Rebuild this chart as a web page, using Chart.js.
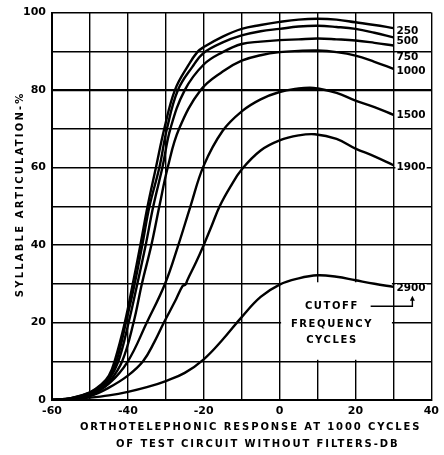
<!DOCTYPE html>
<html>
<head>
<meta charset="utf-8">
<script src="https://cdn.jsdelivr.net/npm/chart.js@4.4.0/dist/chart.umd.min.js"></script>
<style>
  html, body { margin: 0; padding: 0; background: #fff; }
</style>
</head>
<body>
<canvas id="c" width="444" height="455"></canvas>
<script>
// Low-pass filter cutoff frequencies (cycles) labelling each curve
const cutoffs = ['250', '500', '750', '1000', '1500', '1900', '2900'];

// Orthotelephonic response (dB) and syllable articulation (%) for each cutoff
const db250  = [-60, -55, -50, -47, -45, -43.5, -40.8, -38.7, -36.7, -34.8, -32.6, -30.4, -27.6, -24, -21.7, -20, -15, -10, -5, 0, 5, 10, 15, 20, 25, 30];
const art250 = [0, 0.5, 2.0, 4.0, 6.3, 10, 20, 30, 40, 50, 60, 70, 80, 86.5, 89.8, 91.1, 93.8, 95.8, 96.8, 97.6, 98.2, 98.4, 98.2, 97.5, 96.8, 96.0];

const db500  = [-60, -55, -50, -47, -45, -43, -40.5, -38.2, -36.2, -34.3, -31.7, -29.7, -26.8, -23, -20, -15, -10, -5, 0, 5, 10, 15, 20, 25, 30];
const art500 = [0, 0.5, 1.9, 3.8, 5.8, 10, 20, 30, 40, 50, 60, 70, 80, 86, 89.6, 92.3, 94.1, 95.2, 95.8, 96.4, 96.6, 96.3, 95.8, 94.8, 93.6];

const db750  = [-60, -55, -50, -47, -45, -42.5, -39.8, -37.5, -35.3, -33.3, -30.9, -28.8, -25, -20, -15, -10, -5, 0, 5, 10, 15, 20, 25, 30];
const art750 = [0, 0.4, 1.7, 3.4, 5.2, 10, 20, 30, 40, 50, 60, 70, 80, 86.6, 89.8, 91.9, 92.5, 92.9, 93.1, 93.3, 93.1, 92.8, 92.2, 91.5];

const db1000  = [-60, -55, -50, -47, -45, -41.5, -38.5, -36.3, -33.8, -31.7, -29.5, -26.5, -20.8, -15, -10, -5, 0, 5, 10, 15, 20, 25, 30];
const art1000 = [0, 0.3, 1.5, 3.0, 4.5, 10, 20, 30, 40, 50, 60, 70, 80, 84.8, 87.6, 89.0, 89.8, 90.1, 90.2, 89.8, 88.9, 87.3, 85.5];

const db1500  = [-60, -55, -50, -45, -40, -35, -30.2, -26.7, -23.5, -20, -15, -10, -5, 0, 5, 8, 10, 15, 20, 25, 30];
const art1500 = [0, 0.3, 1.2, 4.2, 10, 20, 30, 40, 50, 60.5, 69.5, 74.5, 77.6, 79.5, 80.4, 80.6, 80.4, 79.3, 77.3, 75.6, 73.6];

const db1900  = [-60, -55, -50, -45, -40, -36, -33, -30.5, -27.5, -25.6, -24.8, -24.3, -22, -20, -17.9, -15.8, -13, -10, -5, 0, 5, 9.3, 15, 20, 25, 30];
const art1900 = [0, 0.3, 1.0, 3.2, 6.3, 10, 15, 20, 25.6, 29.4, 29.8, 31.0, 35.6, 40, 45, 50, 55, 59.5, 64.4, 67.0, 68.3, 68.6, 67.4, 64.9, 62.9, 60.6];

const db2900  = [-60, -55, -50, -45, -40, -35, -30, -25, -20, -15, -10, -5, 0, 5, 10, 15, 20, 25, 30];
const art2900 = [0, 0.2, 0.6, 1.2, 2.1, 3.3, 4.9, 7.0, 10.5, 15.6, 21.4, 26.6, 29.8, 31.4, 32.2, 31.8, 30.9, 30.0, 29.2];

// Where each cutoff label sits on the articulation scale, right of the curve ends
const labelArt = [95.4, 92.8, 88.6, 85.1, 73.5, 60.1, 28.9];

// Labelled ticks
const xTicks = [-60, -40, -20, 0, 20, 40];
const yTicks = [0, 20, 40, 60, 80, 100];

const xTitle = ['ORTHOTELEPHONIC RESPONSE AT 1000 CYCLES', 'OF TEST CIRCUIT WITHOUT FILTERS-DB'];
const yTitle = 'SYLLABLE ARTICULATION-%';
const noteLines = ['CUTOFF', 'FREQUENCY', 'CYCLES'];

const series = [
  [db250, art250], [db500, art500], [db750, art750], [db1000, art1000],
  [db1500, art1500], [db1900, art1900], [db2900, art2900]
];

const FONT = '"DejaVu Sans", "Liberation Sans", sans-serif';

const datasets = series.map(([xs, ys], i) => ({
  label: cutoffs[i],
  data: xs.map((x, k) => ({ x: x, y: ys[k] })),
  borderColor: '#000',
  borderWidth: 2.4,
  pointRadius: 0,
  fill: false,
  tension: 0.4
}));

function spacedText(ctx, text, x, y, spacing, align) {
  ctx.save();
  ctx.letterSpacing = spacing + 'px';
  ctx.textAlign = align || 'center';
  ctx.fillText(text, x, y);
  ctx.restore();
}

const decorations = {
  id: 'decorations',
  beforeDatasetsDraw(chart) {
    // clear the grid behind the explanatory note
    const { ctx, scales: { x, y } } = chart;
    ctx.save();
    ctx.fillStyle = '#fff';
    const l = x.getPixelForValue(0) + 1.5, r = x.getPixelForValue(30) - 1.5;
    const t = y.getPixelForValue(30) - 1.5, b = y.getPixelForValue(10) - 1.5;
    ctx.fillRect(l, t, r - l, b - t);
    ctx.restore();
  },
  afterDatasetsDraw(chart) {
    const { ctx, scales: { x, y } } = chart;
    ctx.save();
    ctx.fillStyle = '#000';
    // cutoff labels at the right end of each curve
    ctx.font = 'bold 10.5px ' + FONT;
    ctx.textBaseline = 'middle';
    const lx = x.getPixelForValue(30) + 3;
    cutoffs.forEach((c, i) => {
      const ly = y.getPixelForValue(labelArt[i]);
      const w = ctx.measureText(c).width;
      ctx.fillStyle = '#fff';
      ctx.fillRect(lx - 1, ly - 4, w + 2, 8);
      ctx.fillStyle = '#000';
      ctx.fillText(c, lx, ly + 0.5);
    });

    // note explaining the curve labels
    ctx.font = 'bold 10px ' + FONT;
    ctx.textBaseline = 'middle';
    const nx = x.getPixelForValue(13.8);
    const noteArt = [24.2, 19.6, 15.5];
    noteLines.forEach((s, i) => spacedText(ctx, s, nx, y.getPixelForValue(noteArt[i]), 1.6, 'center'));

    // arrow from the note up to the 2900 label
    const ax0 = x.getPixelForValue(24.0), ax1 = x.getPixelForValue(35.0);
    const ay0 = y.getPixelForValue(24.2), ay1 = y.getPixelForValue(26.9);
    ctx.strokeStyle = '#000';
    ctx.lineWidth = 1.4;
    ctx.beginPath();
    ctx.moveTo(ax0, ay0);
    ctx.lineTo(ax1, ay0);
    ctx.lineTo(ax1, ay1 + 3);
    ctx.stroke();
    ctx.beginPath();
    ctx.moveTo(ax1, ay1);
    ctx.lineTo(ax1 - 2.5, ay1 + 5);
    ctx.lineTo(ax1 + 2.5, ay1 + 5);
    ctx.closePath();
    ctx.fill();
    ctx.restore();
  },
  afterDraw(chart) {
    const { ctx, chartArea } = chart;
    ctx.save();
    ctx.fillStyle = '#000';
    ctx.font = 'bold 10px ' + FONT;
    ctx.textBaseline = 'middle';
    const cx = (chartArea.left + chartArea.right) / 2;
    spacedText(ctx, xTitle[0], cx + 9, chartArea.bottom + 27, 1.9, 'center');
    spacedText(ctx, xTitle[1], cx + 16, chartArea.bottom + 44, 1.9, 'center');

    ctx.translate(20, (chartArea.top + chartArea.bottom) / 2 - 12);
    ctx.rotate(-Math.PI / 2);
    spacedText(ctx, yTitle, 0, 0, 2.2, 'center');
    ctx.restore();
  }
};

const gridWidth = (c) => (c.tick && c.tick.value === 80 ? 2.2 : 1.4);

new Chart(document.getElementById('c'), {
  type: 'line',
  data: { datasets: datasets },
  options: {
    responsive: false,
    animation: false,
    devicePixelRatio: 1,
    layout: { padding: { left: 0, top: 12, right: 10, bottom: 0 } },
    plugins: { legend: { display: false }, tooltip: { enabled: false } },
    scales: {
      x: {
        type: 'linear',
        min: -60, max: 40,
        ticks: {
          stepSize: 10,
          autoSkip: false,
          maxRotation: 0,
          padding: 5,
          color: '#000',
          font: { family: FONT, weight: 'bold', size: 11 },
          callback: (v) => (xTicks.includes(v) ? String(v) : '')
        },
        grid: { color: '#000', lineWidth: gridWidth, drawTicks: false },
        border: { color: '#000', width: 2 },
        afterFit: (s) => { s.height = 55; }
      },
      y: {
        min: 0, max: 100,
        ticks: {
          stepSize: 10,
          autoSkip: false,
          padding: 6,
          color: '#000',
          font: { family: FONT, weight: 'bold', size: 11 },
          callback: (v) => (yTicks.includes(v) ? String(v) : '')
        },
        grid: { color: '#000', lineWidth: gridWidth, drawTicks: false },
        border: { color: '#000', width: 2 },
        afterFit: (s) => { s.width = 52; }
      }
    }
  },
  plugins: [decorations]
});
</script>
</body>
</html>
